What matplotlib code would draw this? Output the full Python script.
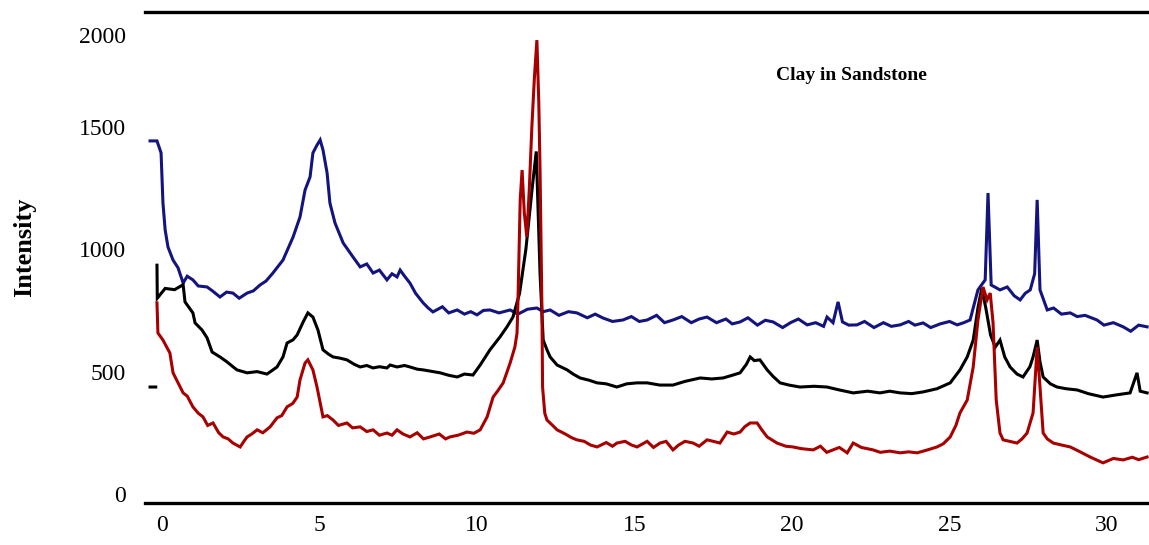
import numpy as np
import matplotlib
matplotlib.use("Agg")
import matplotlib.pyplot as plt

plt.rcParams['font.family'] = ['Liberation Serif', 'DejaVu Serif']

# (2theta, intensity) pairs, one list per trace
top_trace = [
    (-0.38, 1443), (-0.16, 1443), (-0.03, 1394), (0.03, 1189), (0.10, 1079), (0.19, 1009),
    (0.35, 956), (0.51, 924), (0.67, 862), (0.80, 890), (0.98, 875), (1.15, 850), (1.43, 846),
    (1.60, 830), (1.84, 805), (2.05, 825), (2.25, 821), (2.45, 800), (2.70, 821), (2.90, 830),
    (3.11, 854), (3.30, 870), (3.52, 903), (3.84, 956), (4.16, 1050), (4.38, 1132), (4.54, 1242),
    (4.70, 1296), (4.79, 1394), (4.92, 1426), (5.02, 1447), (5.11, 1406), (5.24, 1312),
    (5.33, 1189), (5.49, 1108), (5.75, 1026), (6.06, 969), (6.29, 928), (6.50, 940), (6.70, 903),
    (6.90, 915), (7.14, 875), (7.30, 900), (7.46, 887), (7.56, 915), (7.70, 890), (7.87, 862),
    (8.05, 820), (8.29, 781), (8.45, 760), (8.60, 744), (8.90, 765), (9.10, 740), (9.37, 752),
    (9.60, 735), (9.80, 745), (10.0, 732), (10.2, 750), (10.41, 752), (10.7, 740), (11.05, 752),
    (11.3, 735), (11.6, 755), (11.90, 760), (12.1, 745), (12.32, 752), (12.6, 730), (12.9, 745),
    (13.17, 740), (13.5, 720), (13.75, 735), (14.0, 719), (14.3, 705), (14.63, 711), (14.9, 725),
    (15.15, 705), (15.40, 711), (15.7, 730), (15.95, 700), (16.22, 711), (16.5, 725), (16.8, 700),
    (17.05, 715), (17.30, 723), (17.6, 700), (17.9, 715), (18.1, 695), (18.35, 703), (18.6, 720),
    (18.9, 690), (19.15, 710), (19.40, 703), (19.7, 680), (19.95, 700), (20.2, 715), (20.48, 691),
    (20.75, 700), (21.0, 685), (21.11, 723), (21.3, 700), (21.46, 785), (21.6, 703), (21.8, 690),
    (22.06, 691), (22.3, 705), (22.6, 680), (22.9, 700), (23.15, 685), (23.43, 691), (23.7, 705),
    (23.9, 690), (24.16, 699), (24.4, 680), (24.7, 695), (25.0, 705), (25.24, 691), (25.45, 700),
    (25.65, 711), (25.90, 834), (26.13, 875), (26.22, 1230), (26.32, 854), (26.60, 834),
    (26.83, 846), (27.05, 810), (27.24, 793), (27.40, 820), (27.56, 834), (27.70, 900),
    (27.78, 1202), (27.87, 834), (28.10, 752), (28.3, 760), (28.55, 735), (28.83, 740),
    (29.05, 725), (29.3, 730), (29.68, 711), (29.9, 690), (30.2, 700), (30.51, 683), (30.75, 665),
    (31.0, 690), (31.27, 683),
]

# short stub on the left is drawn apart from the rest of the trace (gap = nan)
middle_trace = [
    (-0.38, 437), (-0.20, 437), (np.nan, np.nan),
    (-0.16, 935), (-0.15, 800), (0.1, 840), (0.4, 835), (0.67, 855),
    (0.73, 785), (0.98, 740), (1.05, 699), (1.27, 670), (1.43, 638), (1.59, 580), (1.84, 560),
    (2.06, 540), (2.25, 520), (2.38, 507), (2.70, 495), (3.02, 500), (3.33, 490), (3.5, 505),
    (3.65, 519), (3.84, 560), (3.97, 617), (4.16, 630), (4.29, 650), (4.48, 703), (4.63, 740),
    (4.79, 723), (4.95, 670), (5.11, 589), (5.3, 570), (5.43, 560), (5.65, 555), (5.87, 548),
    (6.1, 530), (6.29, 519), (6.5, 525), (6.70, 515), (6.9, 520), (7.14, 515), (7.24, 527),
    (7.46, 519), (7.7, 525), (7.87, 519), (8.1, 510), (8.29, 507), (8.6, 500), (8.83, 495),
    (9.1, 485), (9.37, 478), (9.6, 490), (9.87, 486), (10.10, 527), (10.41, 589), (10.73, 642),
    (10.95, 683), (11.14, 723), (11.35, 820), (11.55, 1000), (11.75, 1250), (11.88, 1400),
    (12.0, 900), (12.10, 629), (12.22, 589), (12.32, 560), (12.54, 527), (12.86, 507),
    (13.05, 490), (13.27, 474), (13.55, 465), (13.81, 454), (14.1, 450), (14.44, 437),
    (14.75, 450), (15.08, 454), (15.40, 454), (15.8, 445), (16.22, 445), (16.6, 460),
    (17.08, 474), (17.45, 470), (17.81, 474), (18.1, 485), (18.35, 495), (18.55, 530),
    (18.67, 560), (18.8, 545), (18.98, 548), (19.21, 507), (19.4, 480), (19.62, 454),
    (19.9, 445), (20.25, 437), (20.7, 440), (21.11, 437), (21.5, 425), (21.94, 413), (22.4, 420),
    (22.79, 413), (23.1, 420), (23.43, 413), (23.8, 410), (24.16, 417), (24.6, 430), (25.02, 454),
    (25.33, 507), (25.56, 560), (25.75, 629), (25.9, 760), (26.02, 840), (26.15, 760),
    (26.3, 650), (26.45, 600), (26.60, 629), (26.75, 560), (26.92, 519), (27.14, 490),
    (27.33, 478), (27.55, 520), (27.65, 560), (27.78, 629), (27.87, 540), (27.97, 478),
    (28.2, 450), (28.41, 437), (28.7, 430), (29.05, 425), (29.4, 410), (29.87, 396), (30.3, 405),
    (30.73, 413), (30.95, 495), (31.05, 420), (31.27, 413),
]

bottom_trace = [
    (-0.16, 781), (-0.13, 658), (0.03, 629), (0.15, 600), (0.25, 576), (0.35, 495), (0.51, 454),
    (0.67, 413), (0.8, 400), (0.98, 356), (1.15, 330), (1.30, 315), (1.45, 280), (1.62, 290),
    (1.8, 250), (1.94, 233), (2.1, 225), (2.25, 208), (2.48, 192), (2.6, 215), (2.70, 233),
    (2.85, 245), (3.02, 262), (3.2, 250), (3.43, 274), (3.65, 311), (3.8, 320), (3.97, 356),
    (4.15, 370), (4.29, 396), (4.38, 466), (4.54, 535), (4.63, 548), (4.79, 507), (4.92, 437),
    (5.02, 372), (5.11, 315), (5.25, 320), (5.43, 302), (5.6, 280), (5.87, 290), (6.05, 270),
    (6.29, 274), (6.5, 255), (6.70, 262), (6.9, 240), (7.14, 249), (7.3, 240), (7.46, 262),
    (7.65, 245), (7.87, 233), (8.1, 250), (8.3, 225), (8.51, 233), (8.8, 245), (9.0, 225),
    (9.14, 233), (9.4, 240), (9.68, 253), (9.9, 248), (10.10, 262), (10.32, 315), (10.51, 396),
    (10.65, 420), (10.83, 454), (11.05, 535), (11.20, 600), (11.27, 658), (11.30, 793),
    (11.37, 1202), (11.43, 1324), (11.50, 1150), (11.58, 1050), (11.66, 1250), (11.74, 1500),
    (11.82, 1700), (11.90, 1855), (11.96, 1600), (12.0, 1324), (12.06, 752), (12.08, 437),
    (12.15, 330), (12.22, 302), (12.4, 280), (12.54, 262), (12.8, 245), (13.0, 230),
    (13.17, 221), (13.4, 215), (13.6, 200), (13.81, 192), (14.1, 210), (14.3, 195), (14.44, 208),
    (14.7, 215), (14.9, 200), (15.08, 192), (15.4, 215), (15.6, 190), (15.81, 208), (16.0, 215),
    (16.22, 180), (16.4, 200), (16.6, 215), (16.86, 208), (17.05, 195), (17.30, 221),
    (17.5, 215), (17.71, 208), (17.94, 253), (18.15, 245), (18.35, 253), (18.5, 275),
    (18.67, 290), (18.89, 290), (19.05, 260), (19.21, 233), (19.52, 208), (19.8, 195),
    (20.03, 192), (20.3, 185), (20.67, 180), (20.9, 195), (21.1, 170), (21.30, 180), (21.5, 190),
    (21.75, 168), (21.94, 208), (22.2, 190), (22.57, 180), (22.8, 170), (23.1, 175),
    (23.43, 168), (23.7, 172), (23.97, 168), (24.3, 180), (24.60, 192), (24.8, 205),
    (25.02, 233), (25.2, 280), (25.33, 331), (25.56, 384), (25.75, 519), (25.90, 711),
    (26.06, 846), (26.19, 793), (26.29, 821), (26.38, 699), (26.48, 384), (26.60, 249),
    (26.70, 221), (26.9, 215), (27.14, 208), (27.3, 225), (27.46, 249), (27.65, 331),
    (27.78, 600), (27.87, 437), (27.97, 249), (28.1, 225), (28.29, 208), (28.55, 200),
    (28.83, 192), (29.1, 175), (29.46, 151), (29.65, 140), (29.87, 127), (30.2, 145),
    (30.51, 139), (30.8, 150), (31.0, 140), (31.27, 151),
]

x_ticks = [0, 5, 10, 15, 20, 25, 30]
y_tick_labels = ['0', '500', '1000', '1500', '2000']
y_tick_pos = [0, 500, 1000, 1500, 1876]  # the printed "2000" sits lower than a linear scale gives

fig = plt.figure(figsize=(11.49, 5.45), dpi=100)
ax = fig.add_axes([0.1262, 0.0771, 0.8738, 0.9009])

for pts, col in [(top_trace, '#14147e'), (middle_trace, 'black'), (bottom_trace, '#a80000')]:
    arr = np.array(pts)
    ax.plot(arr[:, 0], arr[:, 1], color=col, lw=2.2, solid_joinstyle='miter')

ax.set_xlim(-0.54, 31.33)
ax.set_ylim(-37, 1970)

ax.set_xticks(x_ticks)
ax.set_xticklabels([str(t) for t in x_ticks])
ax.set_yticks(y_tick_pos)
ax.set_yticklabels(y_tick_labels)
ax.tick_params(axis='both', length=0, labelsize=17)
ax.tick_params(axis='x', pad=9)
ax.tick_params(axis='y', pad=14)

for side in ['left', 'right']:
    ax.spines[side].set_visible(False)
for side in ['top', 'bottom']:
    ax.spines[side].set_linewidth(2.4)

ax.set_ylabel('Intensity', fontsize=19, fontweight='bold')
ax.yaxis.set_label_coords(-0.108, 0.52)
ax.text(21.9, 1712, 'Clay in Sandstone', fontsize=14, fontweight='bold', ha='center', va='center')

fig.savefig('out.png', dpi=100)
